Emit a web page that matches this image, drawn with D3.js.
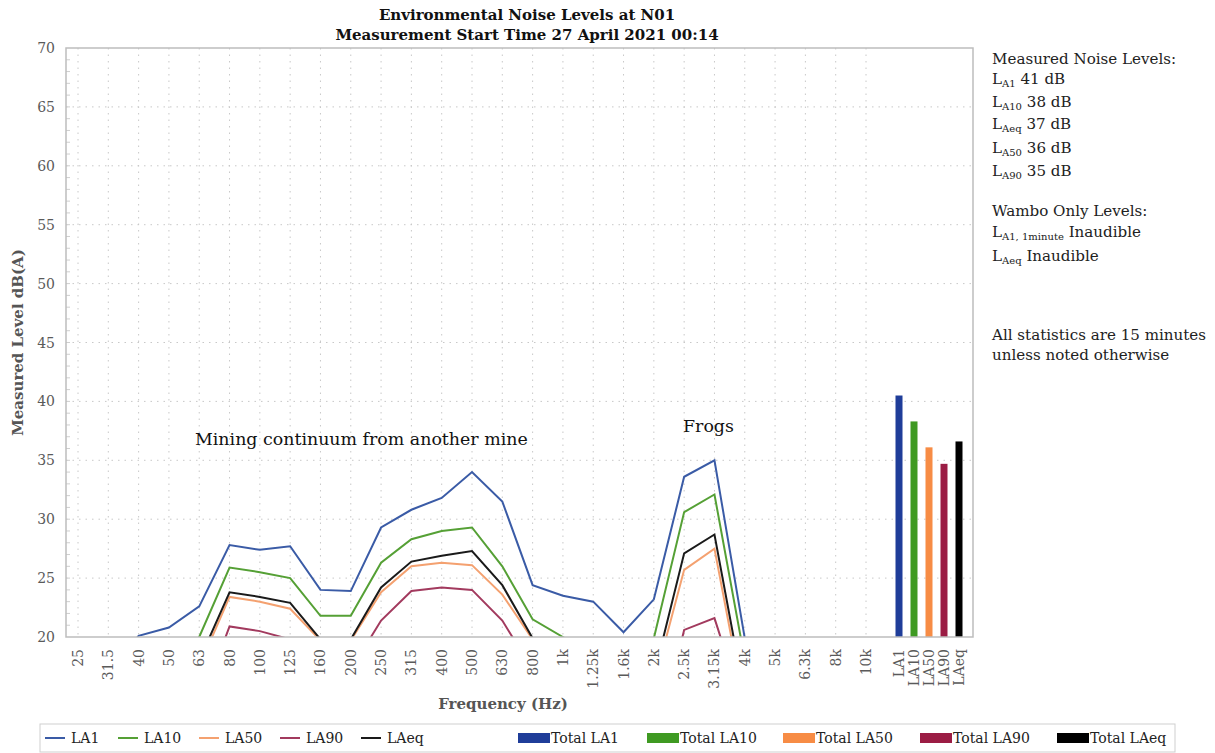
<!DOCTYPE html>
<html>
<head>
<meta charset="utf-8">
<script src="https://cdn.jsdelivr.net/npm/d3@7"></script>
<style>
  body { margin: 0; background: #fff; }
  svg text { font-family: "DejaVu Serif", "Liberation Serif", serif; }
</style>
</head>
<body>
<svg id="chart" width="1215" height="753"></svg>
<script>
// categories on the x axis
const freqs = ["25","31.5","40","50","63","80","100","125","160","200","250","315","400","500","630","800",
  "1k","1.25k","1.6k","2k","2.5k","3.15k","4k","5k","6.3k","8k","10k"];
const totalNames = ["LA1","LA10","LA50","LA90","LAeq"];

// spectra, dB(A) - values under 20 fall off the bottom of the chart
const la1  = [18,17,20.1,20.8,22.6,27.8,27.4,27.7,24.0,23.9,29.3,30.8,31.8,34.0,31.5,24.4,23.5,23.0,20.4,23.2,33.6,35.0,19.9,16,15,14,13];
const la10 = [15,15,16,17,20.0,25.9,25.5,25.0,21.8,21.8,26.3,28.3,29.0,29.3,26.0,21.5,20.0,18.5,17,19.9,30.6,32.1,18.1,14,13,12,11];
const la50 = [12,12,13,14,17.5,23.4,23.0,22.4,19.7,19.7,23.8,26.0,26.3,26.1,23.6,19.8,17,16,15,16.0,25.7,27.5,14.0,12,11,10,10];
const la90 = [10,10,11,12,14.0,20.9,20.5,19.8,17.0,17.2,21.4,23.9,24.2,24.0,21.4,17.2,15,14,12,10.0,20.6,21.6,13.6,10,10,9,9];
const laeq = [13,13,14,15,18.0,23.8,23.4,22.9,19.8,19.8,24.2,26.4,26.9,27.3,24.4,19.9,17,16,15,16.7,27.1,28.7,14.9,12,11,10,10];

// overall totals (bars)
const totals = [40.5, 38.3, 36.1, 34.7, 36.6];

const yTicks = [20,25,30,35,40,45,50,55,60,65,70];

const series = [
  { name: "LA1",  values: la1,  color: "#3a5ba6" },
  { name: "LA10", values: la10, color: "#55a035" },
  { name: "LA50", values: la50, color: "#f4a170" },
  { name: "LA90", values: la90, color: "#a23a5e" },
  { name: "LAeq", values: laeq, color: "#1a1a1a" }
];
const barColors = ["#1f3d99", "#3f9a22", "#f78c45", "#9b1c44", "#000000"];

const svg = d3.select("#chart");
const margin = { left: 66, top: 48, right: 242, bottom: 116 };
const width = 1215 - margin.left - margin.right;   // 907
const height = 753 - margin.top - margin.bottom;  // 589

const g = svg.append("g").attr("transform", `translate(${margin.left},${margin.top})`);

const y = d3.scaleLinear().domain([20, 70]).range([height, 0]);
const xFreq = d3.scalePoint().domain(freqs).range([12, 800]);
const xTot = d3.scalePoint().domain(totalNames).range([833, 893]);

// grid
g.append("g").selectAll("line").data(yTicks.slice(1, -1)).join("line")
  .attr("x1", 0).attr("x2", width)
  .attr("y1", d => y(d)).attr("y2", d => y(d))
  .attr("stroke", "#c8c8c8").attr("stroke-width", 1).attr("stroke-dasharray", "1.5,5");
g.append("g").selectAll("line").data(freqs).join("line")
  .attr("x1", d => xFreq(d)).attr("x2", d => xFreq(d))
  .attr("y1", 0).attr("y2", height)
  .attr("stroke", "#c8c8c8").attr("stroke-width", 1).attr("stroke-dasharray", "1.5,5");

// minor ticks on y
g.append("g").selectAll("line").data(d3.range(21, 70)).join("line")
  .attr("x1", 0).attr("x2", 4)
  .attr("y1", d => y(d)).attr("y2", d => y(d))
  .attr("stroke", "#cfcfcf");

// y axis labels
g.append("g").selectAll("text").data(yTicks).join("text")
  .attr("x", -11).attr("y", d => y(d) + 5)
  .attr("text-anchor", "end")
  .attr("font-size", 14).attr("fill", "#5a5a5a")
  .text(d => d);

// x labels (rotated)
const xLabels = freqs.map(f => ({ t: f, x: xFreq(f) })).concat(totalNames.map(n => ({ t: n, x: xTot(n) })));
g.append("g").selectAll("text").data(xLabels).join("text")
  .attr("transform", d => `translate(${d.x + 5},${height + 12}) rotate(-90)`)
  .attr("text-anchor", "end")
  .attr("font-size", 14).attr("fill", "#5a5a5a")
  .text(d => d.t);

// clip
svg.append("clipPath").attr("id", "plotclip").append("rect")
  .attr("x", 0).attr("y", 0).attr("width", width).attr("height", height);

const line = d3.line().x((d, i) => xFreq(freqs[i])).y(d => y(d));
g.append("g").attr("clip-path", "url(#plotclip)")
  .selectAll("path").data(series).join("path")
  .attr("d", d => line(d.values))
  .attr("fill", "none").attr("stroke", d => d.color).attr("stroke-width", 2);

// total bars
g.append("g").selectAll("rect").data(totals).join("rect")
  .attr("x", (d, i) => xTot(totalNames[i]) - 3.5)
  .attr("width", 7)
  .attr("y", d => y(d)).attr("height", d => height - y(d))
  .attr("fill", (d, i) => barColors[i]);

// plot border
g.append("rect").attr("width", width).attr("height", height)
  .attr("fill", "none").attr("stroke", "#bdbdbd").attr("stroke-width", 1.5);

// annotations
g.append("text").attr("x", 129).attr("y", y(36.3)).attr("font-size", 17.4).attr("fill", "#111")
  .text("Mining continuum from another mine");
g.append("text").attr("x", 617).attr("y", y(37.4)).attr("font-size", 17.4).attr("fill", "#111")
  .text("Frogs");

// titles
svg.append("text").attr("x", 527).attr("y", 20).attr("text-anchor", "middle")
  .attr("font-size", 15).attr("font-weight", "bold").attr("fill", "#111")
  .text("Environmental Noise Levels at N01");
svg.append("text").attr("x", 527).attr("y", 40).attr("text-anchor", "middle")
  .attr("font-size", 15).attr("font-weight", "bold").attr("fill", "#111")
  .text("Measurement Start Time 27 April 2021 00:14");

svg.append("text").attr("transform", `translate(23,${margin.top + height / 2}) rotate(-90)`)
  .attr("text-anchor", "middle").attr("font-size", 15).attr("font-weight", "bold").attr("fill", "#555")
  .text("Measured Level dB(A)");
svg.append("text").attr("x", 503).attr("y", 709).attr("text-anchor", "middle")
  .attr("font-size", 15).attr("font-weight", "bold").attr("fill", "#555")
  .text("Frequency (Hz)");

// side notes
const notes = [
  { y: 64, parts: [["Measured Noise Levels:"]] },
  { y: 84, parts: [["L"], ["A1", "sub"], [" 41 dB"]] },
  { y: 107, parts: [["L"], ["A10", "sub"], [" 38 dB"]] },
  { y: 129, parts: [["L"], ["Aeq", "sub"], [" 37 dB"]] },
  { y: 153, parts: [["L"], ["A50", "sub"], [" 36 dB"]] },
  { y: 176, parts: [["L"], ["A90", "sub"], [" 35 dB"]] },
  { y: 216, parts: [["Wambo Only Levels:"]] },
  { y: 237, parts: [["L"], ["A1, 1minute", "sub"], [" Inaudible"]] },
  { y: 261, parts: [["L"], ["Aeq", "sub"], [" Inaudible"]] },
  { y: 340, parts: [["All statistics are 15 minutes"]] },
  { y: 360, parts: [["unless noted otherwise"]] }
];
notes.forEach(n => {
  const t = svg.append("text").attr("x", 992).attr("y", n.y).attr("font-size", 15.1).attr("fill", "#222");
  n.parts.forEach(p => {
    const ts = t.append("tspan").text(p[0]);
    if (p[1] === "sub") ts.attr("font-size", 10).attr("dy", 3);
    else if (t.selectAll("tspan").size() > 1) ts.attr("dy", -3);
  });
});

// legend
const lg = svg.append("g");
lg.append("rect").attr("x", 40).attr("y", 724).attr("width", 1135).attr("height", 28)
  .attr("fill", "#fff").attr("stroke", "#cfcfcf");
const lineItems = [42, 115, 196, 277, 358];
series.forEach((s, i) => {
  lg.append("line").attr("x1", lineItems[i] + 3).attr("x2", lineItems[i] + 23)
    .attr("y1", 738).attr("y2", 738).attr("stroke", s.color).attr("stroke-width", 2);
  lg.append("text").attr("x", lineItems[i] + 29).attr("y", 743).attr("font-size", 14).attr("fill", "#222").text(s.name);
});
const barItems = [518, 647, 783, 920, 1057];
totalNames.forEach((n, i) => {
  lg.append("rect").attr("x", barItems[i]).attr("y", 733).attr("width", 32).attr("height", 10)
    .attr("fill", barColors[i]);
  lg.append("text").attr("x", barItems[i] + 33).attr("y", 743).attr("font-size", 14).attr("fill", "#222").text("Total " + n);
});
</script>
</body>
</html>
